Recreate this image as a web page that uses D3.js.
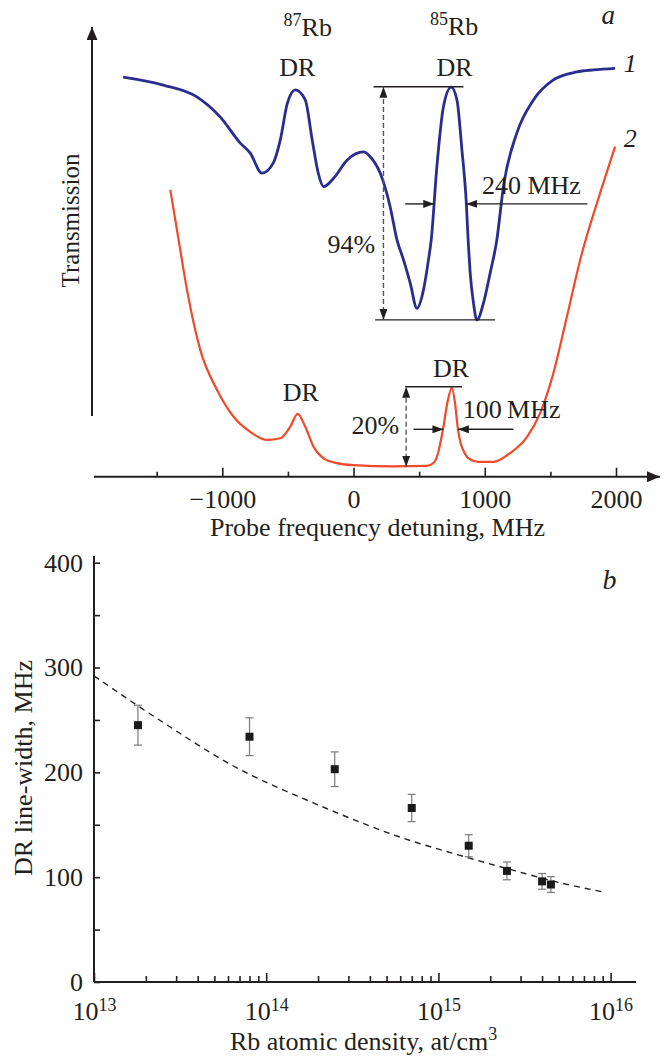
<!DOCTYPE html>
<html>
<head>
<meta charset="utf-8">
<script src="https://cdn.jsdelivr.net/npm/d3@7"></script>
<style>
  body { margin: 0; background: #fff; }
  text { font-family: "Liberation Serif", "Times New Roman", serif; fill: #231f20; }
</style>
</head>
<body>
<svg id="chart" width="670" height="1057"></svg>
<script>
// ---------- Data ----------

// panel a, curve 1 (blue): detuning in MHz, transmission in arb. units
const detuning1 = [-1755, -1450, -1191, -1015, -863, -787, -698, -612, -558, -504, -444, -368, -315, -269, -228, -152, -48, 76, 127, 203, 279, 331, 381, 432, 483, 533, 571, 592, 635, 685, 744, 788, 826, 858, 876, 889, 914, 940, 990, 1041, 1092, 1142, 1244, 1371, 1523, 1701, 1828, 1993];
const trans1 = [99.9, 97.9, 94.9, 89.9, 83.4, 80.9, 75.9, 78.4, 84.2, 93.4, 96.7, 94.2, 84.2, 75.9, 72.5, 74.6, 79.2, 81.2, 80.0, 75.9, 67.5, 59.2, 54.2, 48.4, 42.1, 46.7, 54.2, 59.2, 77.5, 92.5, 97.4, 94.2, 81.7, 69.2, 57.5, 50.9, 43.4, 39.2, 43.4, 50.9, 59.2, 72.5, 85.9, 94.2, 99.2, 101.2, 101.7, 102.1];

// panel a, curve 2 (red)
const detuning2 = [-1396, -1333, -1269, -1168, -1040, -914, -787, -660, -558, -482, -426, -368, -305, -228, -127, 0, 300, 560, 610, 645, 685, 715, 749, 775, 795, 815, 838, 880, 950, 1066, 1193, 1321, 1422, 1523, 1625, 1727, 1879, 1993];
const trans2 = [71.7, 59.2, 46.7, 31.7, 21.7, 15.0, 11.2, 9.2, 9.6, 12.5, 15.7, 12.5, 7.5, 4.6, 3.4, 2.9, 2.6, 2.7, 3.5, 6.0, 12.5, 18.5, 22.2, 18.0, 12.0, 8.5, 6.5, 4.5, 3.7, 3.7, 5.9, 9.9, 15.9, 25.9, 39.9, 54.2, 70.9, 82.5];

const xTicksA = [-1000, 0, 1000, 2000];
const xMinorA = [-1500, -500, 500, 1500];

// panel b: measured DR line-widths
const density = [1.8e13, 8e13, 2.5e14, 7e14, 1.5e15, 2.5e15, 4e15, 4.5e15];
const lineWidth = [245, 234, 203, 166, 130, 106, 96, 93];
const lineWidthErr = [19, 18, 16.5, 13, 10.5, 8.5, 7.5, 7.5];

// panel b: dashed theory curve
const fitDensity = [1e13, 2.5e13, 6.3e13, 2e14, 6.3e14, 1.32e15, 2.8e15, 5e15, 9.3e15];
const fitWidth = [292, 248, 207, 169, 137, 121, 106, 95, 85.5];

const yTicksB = [0, 100, 200, 300, 400];
const yMinorB = [50, 150, 250, 350];
const xTickExpB = [13, 14, 15, 16];

// ---------- Setup ----------
const ink = "#231f20";
const blue = "#2b2d8e";
const red = "#ef4a2a";
const svg = d3.select("#chart");
const defs = svg.append("defs");

function addMarker(id, w, h) {
  defs.append("marker")
    .attr("id", id)
    .attr("viewBox", `0 0 ${w} ${h}`)
    .attr("refX", w).attr("refY", h / 2)
    .attr("markerWidth", w).attr("markerHeight", h)
    .attr("markerUnits", "userSpaceOnUse")
    .attr("orient", "auto-start-reverse")
    .append("path")
    .attr("d", `M0,0L${w},${h / 2}L0,${h}Z`)
    .attr("fill", ink);
}
addMarker("axisHead", 13, 11);
addMarker("head", 11, 8);

// ---------- Panel a ----------
const xA = d3.scaleLinear().domain([-1000, 2000]).range([222.3, 616]);
const yA = d3.scaleLinear().domain([0, 100]).range([476.7, 76.7]);
const gA = svg.append("g");

// axes with arrows
gA.append("line")
  .attr("x1", 94).attr("x2", 660)
  .attr("y1", yA(0)).attr("y2", yA(0))
  .attr("stroke", ink).attr("stroke-width", 2)
  .attr("marker-end", "url(#axisHead)");
gA.append("line")
  .attr("x1", 92).attr("x2", 92)
  .attr("y1", 416).attr("y2", 27)
  .attr("stroke", ink).attr("stroke-width", 2)
  .attr("marker-end", "url(#axisHead)");

gA.append("g")
  .attr("transform", `translate(0,${yA(0)})`)
  .call(d3.axisBottom(xA).tickValues(xTicksA).tickSize(-9).tickPadding(13).tickFormat(d3.format("d")))
  .call(g => g.select(".domain").remove())
  .attr("font-family", null).attr("font-size", 26).attr("color", ink)
  .call(g => g.selectAll(".tick line").attr("stroke-width", 1.6));
gA.append("g")
  .attr("transform", `translate(0,${yA(0)})`)
  .call(d3.axisBottom(xA).tickValues(xMinorA).tickSize(-5).tickFormat(""))
  .call(g => g.select(".domain").remove())
  .attr("color", ink)
  .call(g => g.selectAll(".tick line").attr("stroke-width", 1.6));

gA.append("text")
  .attr("x", 377.5).attr("y", 536)
  .attr("text-anchor", "middle").attr("font-size", 26)
  .text("Probe frequency detuning, MHz");
gA.append("text")
  .attr("transform", "translate(78.5,220.5) rotate(-90)")
  .attr("text-anchor", "middle").attr("font-size", 25)
  .text("Transmission");

// curves
const lineA = d3.line().x(d => xA(d[0])).y(d => yA(d[1])).curve(d3.curveMonotoneX);
gA.append("path")
  .datum(d3.zip(detuning2, trans2))
  .attr("d", lineA).attr("fill", "none")
  .attr("stroke", red).attr("stroke-width", 2.2).attr("stroke-linejoin", "round");
gA.append("path")
  .datum(d3.zip(detuning1, trans1))
  .attr("d", lineA).attr("fill", "none")
  .attr("stroke", blue).attr("stroke-width", 2.8).attr("stroke-linejoin", "round");

// annotation helpers
function hline(f1, f2, v) {
  gA.append("line")
    .attr("x1", xA(f1)).attr("x2", xA(f2)).attr("y1", yA(v)).attr("y2", yA(v))
    .attr("stroke", ink).attr("stroke-width", 1.4);
}
function arrow(f1, v1, f2, v2, dashed) {
  const l = gA.append("line")
    .attr("x1", xA(f1)).attr("x2", xA(f2)).attr("y1", yA(v1)).attr("y2", yA(v2))
    .attr("stroke", dashed ? "#555" : ink).attr("stroke-width", 1.4)
    .attr("marker-end", "url(#head)");
  if (dashed) l.attr("stroke-dasharray", "5,3").attr("marker-start", "url(#head)");
}
function label(f, v, txt, anchor, opts = {}) {
  return gA.append("text")
    .attr("x", xA(f)).attr("y", yA(v))
    .attr("text-anchor", anchor || "middle")
    .attr("font-size", opts.size || 26)
    .attr("font-style", opts.italic ? "italic" : null)
    .text(txt);
}
function isotope(f, v, mass) {
  const t = gA.append("text")
    .attr("x", xA(f)).attr("y", yA(v))
    .attr("text-anchor", "middle").attr("font-size", 26);
  t.append("tspan").attr("font-size", 18).attr("dy", -10).text(mass);
  t.append("tspan").attr("dy", 10).text("Rb");
}

isotope(-349, 110.2, "87");
isotope(767, 110.4, "85");
label(-429, 100.2, "DR");
label(770, 100.2, "DR");
label(-402, 19, "DR");
label(744, 24.85, "DR");
label(1940, 113.2, "a", "middle", { italic: true, size: 27 });
label(2108, 101.25, "1", "middle", { italic: true, size: 26 });
label(2108, 82.5, "2", "middle", { italic: true, size: 26 });

// 94 % contrast of curve 1
hline(152, 838, 97.5);
hline(165, 1079, 39.2);
arrow(228, 39.2, 228, 97.5, true);
label(165, 55.9, "94%", "end");

// 240 MHz width
arrow(394, 68.2, 615, 68.2);
arrow(1782, 68.2, 858, 68.2);
label(978, 70.6, "240 MHz", "start");

// 20 % contrast of curve 2
hline(394, 826, 22.5);
arrow(401, 2.5, 401, 22.5, true);
label(348, 10.7, "20%", "end");

// 100 MHz width
arrow(457, 11.85, 685, 11.85);
arrow(1219, 11.85, 795, 11.85);
label(833, 14.75, "100\u2009MHz", "start");

// ---------- Panel b ----------
const xB = d3.scaleLog().domain([1e13, 1e16]).range([94, 610.6]);
const yB = d3.scaleLinear().domain([0, 400]).range([982, 562.7]);
const gB = svg.append("g");

gB.append("line")
  .attr("x1", xB(1e13)).attr("x2", 636).attr("y1", yB(0)).attr("y2", yB(0))
  .attr("stroke", ink).attr("stroke-width", 2);
gB.append("line")
  .attr("x1", xB(1e13)).attr("x2", xB(1e13)).attr("y1", yB(0)).attr("y2", 556)
  .attr("stroke", ink).attr("stroke-width", 2);

// y axis
gB.append("g")
  .attr("transform", `translate(${xB(1e13)},0)`)
  .call(d3.axisLeft(yB).tickValues(yTicksB).tickSize(-6).tickPadding(11))
  .call(g => g.select(".domain").remove())
  .attr("font-family", null).attr("font-size", 26).attr("color", ink)
  .call(g => g.selectAll(".tick line").attr("stroke-width", 1.6));
gB.append("g")
  .attr("transform", `translate(${xB(1e13)},0)`)
  .call(d3.axisLeft(yB).tickValues(yMinorB).tickSize(-6).tickFormat(""))
  .call(g => g.select(".domain").remove())
  .attr("color", ink)
  .call(g => g.selectAll(".tick line").attr("stroke-width", 1.6));

// x axis (log)
const majorB = xTickExpB.map(e => Math.pow(10, e));
const minorB = xB.ticks().filter(d => !majorB.some(m => Math.abs(m - d) / m < 1e-6));
gB.append("g")
  .attr("transform", `translate(0,${yB(0)})`)
  .call(d3.axisBottom(xB).tickValues(majorB).tickSize(-9).tickPadding(12).tickFormat(""))
  .call(g => g.select(".domain").remove())
  .attr("font-family", null).attr("font-size", 26).attr("color", ink)
  .call(g => g.selectAll(".tick line").attr("stroke-width", 1.6))
  .call(g => g.selectAll(".tick text").each(function (d, i) {
    const t = d3.select(this).attr("dy", null).attr("y", 38);
    t.append("tspan").text("10");
    t.append("tspan").attr("font-size", 18).attr("dy", -9).text(xTickExpB[i]);
  }));
gB.append("g")
  .attr("transform", `translate(0,${yB(0)})`)
  .call(d3.axisBottom(xB).tickValues(minorB).tickSize(-6).tickFormat(""))
  .call(g => g.select(".domain").remove())
  .attr("color", ink)
  .call(g => g.selectAll(".tick line").attr("stroke-width", 1.6));

const xTitle = gB.append("text")
  .attr("x", 363.6).attr("y", 1050)
  .attr("text-anchor", "middle").attr("font-size", 26);
xTitle.append("tspan").text("Rb atomic density, at/cm");
xTitle.append("tspan").attr("font-size", 18).attr("dy", -10).text("3");

gB.append("text")
  .attr("transform", "translate(32,768) rotate(-90)")
  .attr("text-anchor", "middle").attr("font-size", 26)
  .text("DR line-width, MHz");

gB.append("text")
  .attr("x", xB(9.86e15)).attr("y", yB(374.7))
  .attr("text-anchor", "middle").attr("font-size", 28).attr("font-style", "italic")
  .text("b");

// dashed fit
gB.append("path")
  .datum(d3.zip(fitDensity, fitWidth))
  .attr("d", d3.line().x(d => xB(d[0])).y(d => yB(d[1])).curve(d3.curveMonotoneX))
  .attr("fill", "none").attr("stroke", ink)
  .attr("stroke-width", 1.4).attr("stroke-dasharray", "6,5");

// error bars + squares
const pts = d3.zip(density, lineWidth, lineWidthErr);
const eb = gB.append("g").attr("stroke", "#7a7a7a").attr("stroke-width", 1.2);
pts.forEach(([n, w, e]) => {
  const x = xB(n);
  eb.append("line").attr("x1", x).attr("x2", x).attr("y1", yB(w - e)).attr("y2", yB(w + e));
  eb.append("line").attr("x1", x - 4).attr("x2", x + 4).attr("y1", yB(w + e)).attr("y2", yB(w + e));
  eb.append("line").attr("x1", x - 4).attr("x2", x + 4).attr("y1", yB(w - e)).attr("y2", yB(w - e));
});
gB.append("g").selectAll("rect")
  .data(pts)
  .join("rect")
  .attr("x", d => xB(d[0]) - 4).attr("y", d => yB(d[1]) - 4)
  .attr("width", 8).attr("height", 8)
  .attr("fill", "#1a1a1a");
</script>
</body>
</html>
